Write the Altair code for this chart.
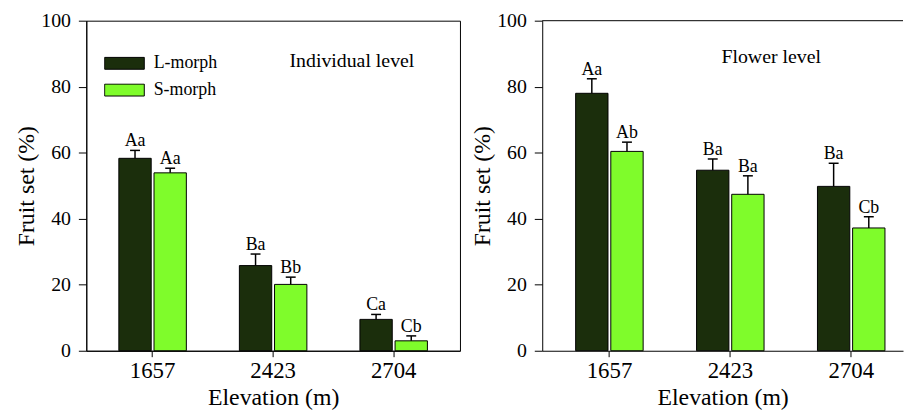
import altair as alt
import pandas as pd

elevations = ["1657", "2423", "2704"]
morphs = ["L-morph", "S-morph"]

# Individual level
ind_L = [58.3, 25.8, 9.5]
ind_L_se = [2.4, 3.5, 1.5]
ind_S = [53.9, 20.1, 3.0]
ind_S_se = [1.4, 2.2, 1.5]
ind_L_lab = ["Aa", "Ba", "Ca"]
ind_S_lab = ["Aa", "Bb", "Cb"]

# Flower level
flw_L = [78.0, 54.7, 49.8]
flw_L_se = [4.4, 3.4, 7.0]
flw_S = [60.4, 47.4, 37.2]
flw_S_se = [2.8, 5.6, 3.4]
flw_L_lab = ["Aa", "Ba", "Ba"]
flw_S_lab = ["Ab", "Ba", "Cb"]

colors = ["#1b2e0c", "#7ffc2b"]
FONT = "Liberation Serif"


def make_df(L, Lse, Llab, S, Sse, Slab):
    rows = []
    for i, e in enumerate(elevations):
        rows.append({"elev": e, "morph": morphs[0], "val": L[i], "upper": L[i] + Lse[i], "lab": Llab[i]})
        rows.append({"elev": e, "morph": morphs[1], "val": S[i], "upper": S[i] + Sse[i], "lab": Slab[i]})
    return pd.DataFrame(rows)


def panel(df, label, lab_x, lab_y, show_legend, width, pouter, align, boxed):
    base = alt.Chart(df).encode(
        x=alt.X("elev:N", sort=elevations,
                scale=alt.Scale(paddingInner=0.44, paddingOuter=pouter, align=align),
                axis=alt.Axis(title="Elevation (m)", labelAngle=0, tickSize=6,
                              labelFontSize=23, titleFontSize=24, labelPadding=3,
                              titlePadding=3)),
        xOffset=alt.XOffset("morph:N", sort=morphs,
                            scale=alt.Scale(paddingInner=0.08, paddingOuter=0)),
    )
    if show_legend:
        leg = alt.Legend(orient="none", legendX=18, legendY=36, title=None,
                         symbolType="M-1,-0.3H1V0.3H-1Z", symbolSize=1600,
                         symbolStrokeColor="black", symbolStrokeWidth=1,
                         symbolOpacity=1, clipHeight=14, rowPadding=9,
                         labelFontSize=18, labelFont=FONT, labelOffset=9,
                         labelColor="black", padding=0)
    else:
        leg = None
    bars = base.mark_bar(stroke="black", strokeWidth=1).encode(
        y=alt.Y("val:Q", scale=alt.Scale(domain=[0, 100], nice=False),
                axis=alt.Axis(title="Fruit set (%)", values=[0, 20, 40, 60, 80, 100],
                              tickSize=8, labelFontSize=20, titleFontSize=24,
                              labelPadding=8, titlePadding=2)),
        fill=alt.Fill("morph:N", sort=morphs,
                      scale=alt.Scale(domain=morphs, range=colors), legend=leg),
    )
    rule = base.mark_rule(color="black", strokeWidth=1.5).encode(
        y="val:Q", y2="upper:Q")
    cap = base.mark_tick(color="black", size=10, thickness=1.5, opacity=1).encode(
        y="upper:Q")
    txt = base.mark_text(font=FONT, fontSize=18, baseline="alphabetic", dy=-4,
                         color="black").encode(y="upper:Q", text="lab:N")
    title_df = pd.DataFrame({"t": [label]})
    ttl = alt.Chart(title_df).mark_text(font=FONT, fontSize=20, color="black").encode(
        x=alt.value(lab_x), y=alt.value(lab_y), text="t:N")
    layers = [bars, rule, cap, txt, ttl]
    props = dict(width=width, height=333)
    if not boxed:
        top = alt.Chart(title_df).mark_rule(color="black", strokeWidth=1).encode(
            x=alt.value(0), x2=alt.value(width), y=alt.value(0))
        layers.append(top)
        props["view"] = alt.ViewBackground(stroke="transparent")
    return alt.layer(*layers).properties(**props)


left = panel(make_df(ind_L, ind_L_se, ind_L_lab, ind_S, ind_S_se, ind_S_lab),
             "Individual level", 268, 41, True, 377, 0.27, 0.5, True)
right = panel(make_df(flw_L, flw_L_se, flw_L_lab, flw_S, flw_S_se, flw_S_lab),
              "Flower level", 231, 37, False, 364, 0.212, 0.652, False)

chart = alt.hconcat(left, right, spacing=83, bounds="flush").resolve_legend(
    fill="independent"
).properties(
    padding={"left": 6, "top": 0, "right": 0, "bottom": 0},
    background="white"
).configure_view(
    stroke="black", strokeWidth=1
).configure_axis(
    labelFont=FONT, titleFont=FONT, labelColor="black", titleColor="black",
    domainColor="black", tickColor="black", grid=False, titleFontWeight="normal",
    domainWidth=1, tickWidth=1
)

chart.save("out.html", embed_options={"renderer": "svg", "actions": False})
